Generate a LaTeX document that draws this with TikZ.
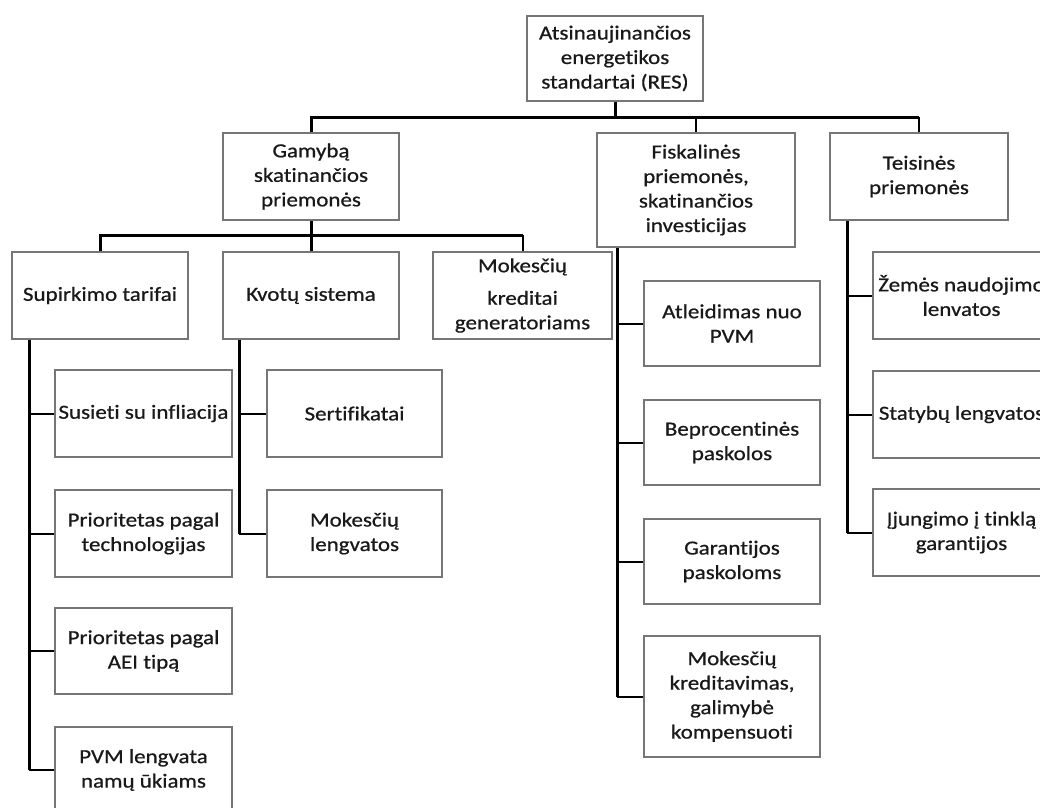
\documentclass[tikz,border=0pt]{standalone}
\usepackage{fontspec}
\setmainfont{Carlito}[FakeStretch=1.15, FakeBold=0.7, Ligatures=NoCommon]
\definecolor{boxgray}{RGB}{118,118,118}
\begin{document}
\begin{tikzpicture}[x=1pt,y=-1pt,
  box/.style={draw=boxgray, line width=1.3pt, fill=white, align=center, inner sep=0pt,
    font=\fontsize{20}{24.5}\selectfont, text=black!90},
  trunk/.style={draw=black, line width=3pt},
  branch/.style={draw=black, line width=2pt},
]
\useasboundingbox (0,0) rectangle (1040,807);
\clip (0,0) rectangle (1040,807);
\fill[white] (0,0) rectangle (1040,807);

% level 0
\node[box, minimum width=176pt, minimum height=85pt] (root) at (615,58.5) {Atsinaujinančios\\energetikos\\standartai (RES)};
% level 1
\node[box, minimum width=176pt, minimum height=87pt] (gam) at (311,176.5) {Gamybą\\skatinančios\\priemonės};
\node[box, minimum width=198pt, minimum height=114pt] (fis) at (696,190) {Fiskalinės\\priemonės,\\skatinančios\\investicijas};
\node[box, minimum width=178pt, minimum height=87pt] (tei) at (919,176.5) {Teisinės\\priemonės};
% level 2 (Gamyba)
\node[box, minimum width=176pt, minimum height=87pt] (sup) at (100,295.5) {Supirkimo tarifai};
\node[box, minimum width=176pt, minimum height=87pt] (kvo) at (311,295.5) {Kvotų sistema};
\node[box, minimum width=179pt, minimum height=87pt] (mok) at (522.5,295.5) {Mokesčių\\[8pt]kreditai\\generatoriams};
% Supirkimo children
\node[box, minimum width=177pt, minimum height=87pt] (s1) at (143.5,413.5) {Susieti su infliacija};
\node[box, minimum width=177pt, minimum height=87pt] (s2) at (143.5,533.5) {Prioritetas pagal\\technologijas};
\node[box, minimum width=177pt, minimum height=86pt] (s3) at (143.5,651) {Prioritetas pagal\\AEI tipą};
\node[box, minimum width=177pt, minimum height=86pt] (s4) at (143.5,770) {PVM lengvata\\namų ūkiams};
% Kvotu children
\node[box, minimum width=175pt, minimum height=87pt] (k1) at (354.5,413.5) {Sertifikatai};
\node[box, minimum width=175pt, minimum height=87pt] (k2) at (354.5,533.5) {Mokesčių\\lengvatos};
% Fiskalines children
\node[box, minimum width=176pt, minimum height=85pt] (f1) at (732,323.5) {Atleidimas nuo\\PVM};
\node[box, minimum width=176pt, minimum height=85pt] (f2) at (732,442.5) {Beprocentinės\\paskolos};
\node[box, minimum width=176pt, minimum height=85pt] (f3) at (732,561.5) {Garantijos\\paskoloms};
\node[box, minimum width=176pt, minimum height=121pt] (f4) at (732,696.5) {Mokesčių\\kreditavimas,\\galimybė\\kompensuoti};
% Teisines children
\node[box, minimum width=177pt, minimum height=87pt] (t1) at (961.5,295.5) {Žemės naudojimo\\lenvatos};
\node[box, minimum width=177pt, minimum height=87pt] (t2) at (961.5,414.5) {Statybų lengvatos};
\node[box, minimum width=177pt, minimum height=87pt] (t3) at (961.5,532.5) {Įjungimo į tinklą\\garantijos};

% helper coordinates
\coordinate (bar1) at (0,117);
\coordinate (bar2) at (0,235);
\coordinate (sl) at ([xshift=18pt]sup.south west);
\coordinate (kl) at ([xshift=17pt]kvo.south west);
\coordinate (fl) at ([xshift=21pt]fis.south west);
\coordinate (tl) at ([xshift=18pt]tei.south west);

% top level connectors
\draw[trunk] (root.south) -- (root.south |- bar1);
\draw[trunk] (gam.north) -- (gam.north |- bar1) -- (tei.north |- bar1);
\draw[branch] (tei.north |- bar1) -- (tei.north);
\draw[branch] (fis.north |- bar1) -- (fis.north);

% Gamyba connectors
\draw[trunk] (gam.south) -- (kvo.north);
\draw[trunk] (sup.north) -- (sup.north |- bar2) -- (mok.north |- bar2);
\draw[branch] (mok.north |- bar2) -- (mok.north);

% Supirkimo
\draw[trunk] (sl) -- (sl |- s4.west);
\draw[branch] (sl |- s1.west) -- (s1.west);
\draw[branch] (sl |- s2.west) -- (s2.west);
\draw[branch] (sl |- s3.west) -- (s3.west);
\draw[branch] (sl |- s4.west) -- (s4.west);

% Kvotu
\draw[trunk] (kl) -- (kl |- k2.west);
\draw[branch] (kl |- k1.west) -- (k1.west);
\draw[branch] (kl |- k2.west) -- (k2.west);

% Fiskalines
\draw[trunk] (fl) -- (fl |- f4.west);
\draw[branch] (fl |- f1.west) -- (f1.west);
\draw[branch] (fl |- f2.west) -- (f2.west);
\draw[branch] (fl |- f3.west) -- (f3.west);
\draw[branch] (fl |- f4.west) -- (f4.west);

% Teisines
\draw[trunk] (tl) -- (tl |- t3.west);
\draw[branch] (tl |- t1.west) -- (t1.west);
\draw[branch] (tl |- t2.west) -- (t2.west);
\draw[branch] (tl |- t3.west) -- (t3.west);
\end{tikzpicture}
\end{document}
